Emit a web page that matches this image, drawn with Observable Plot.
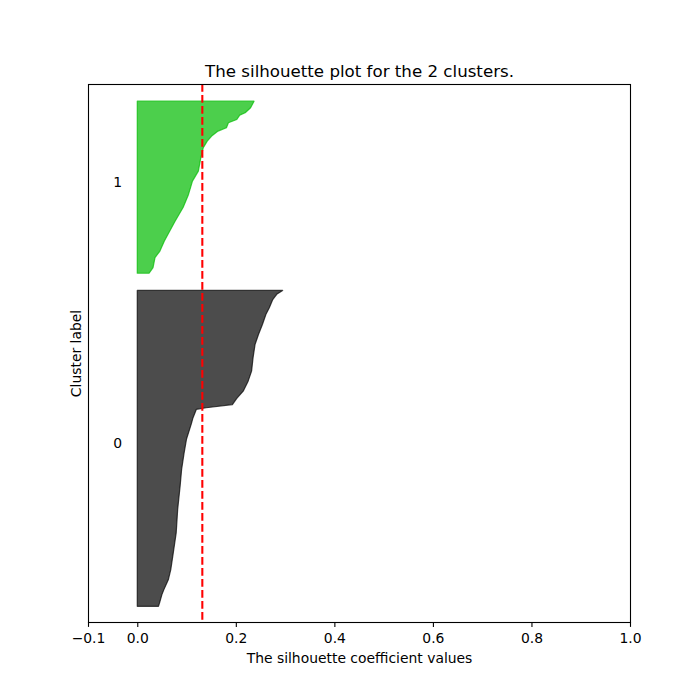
<!DOCTYPE html>
<html>
<head>
<meta charset="utf-8">
<script src="https://cdn.jsdelivr.net/npm/d3@7"></script>
<script src="https://cdn.jsdelivr.net/npm/@observablehq/plot@0.6"></script>
<style>
  html, body { margin: 0; padding: 0; background: #fff; }
  #chart { width: 700px; height: 700px; }
</style>
</head>
<body>
<div id="chart"></div>
<script>
// ---- data ----
const clusterIds = [0, 1];
const clusterSizes = [203, 111];
const clusterColors = ["rgb(0,0,0)", "rgb(0,187,0)"];

// sorted silhouette profile: sample rank within cluster -> silhouette value
const cluster0Rank  = [0, 2, 7.5, 10.7, 17, 23.5, 34, 47, 62, 77, 87.5, 98, 107, 117, 120.5, 126, 127, 129, 133, 137.6, 144, 150.4, 159, 167.4, 173.8, 180.2, 186.6, 191, 196.2, 199.5, 202];
const cluster0Value = [0.043, 0.045, 0.050, 0.054, 0.063, 0.068, 0.073, 0.079, 0.082, 0.087, 0.090, 0.095, 0.100, 0.110, 0.113, 0.120, 0.140, 0.193, 0.202, 0.215, 0.225, 0.232, 0.235, 0.239, 0.246, 0.254, 0.261, 0.268, 0.275, 0.283, 0.295];

const cluster1Rank  = [0, 3.6, 10, 14.2, 20.6, 27, 33.4, 42, 50.4, 58.9, 65.3, 73.9, 80.3, 84.5, 87.7, 90.9, 93, 96.2, 98.3, 101.1, 102.6, 105.8, 110];
const cluster1Value = [0.024, 0.032, 0.036, 0.046, 0.055, 0.066, 0.077, 0.093, 0.104, 0.112, 0.124, 0.129, 0.134, 0.142, 0.151, 0.164, 0.181, 0.185, 0.202, 0.208, 0.219, 0.230, 0.237];

const avgSilhouette = 0.131;
const xTicks = [-0.1, 0, 0.2, 0.4, 0.6, 0.8, 1.0];
const titleText = "The silhouette plot for the 2 clusters.";
const xLabelText = "The silhouette coefficient values";
const yLabelText = "Cluster label";

// ---- layout like the matplotlib silhouette example ----
const gap = 10;
const yLower = [];
let acc = gap;
for (const s of clusterSizes) { yLower.push(acc); acc += s + gap; }
const yMax = clusterSizes.reduce((a, b) => a + b, 0) + (clusterIds.length + 1) * gap;

const ranks = [cluster0Rank, cluster1Rank];
const values = [cluster0Value, cluster1Value];
const rows = [];
clusterIds.forEach((c, k) => {
  ranks[k].forEach((r, i) => rows.push({cluster: c, y: yLower[k] + r, value: values[k][i]}));
});
const labels = clusterIds.map((c, k) => ({cluster: c, y: yLower[k] + 0.5 * clusterSizes[k]}));

const font = "DejaVu Sans, sans-serif";
const fmt = d => d.toFixed(1).replace("-", "\u2212");

const chart = Plot.plot({
  width: 700,
  height: 700,
  marginLeft: 88,
  marginRight: 70,
  marginTop: 84,
  marginBottom: 78,
  style: {fontFamily: font, fontSize: "13.9px", color: "black", background: "white"},
  x: {domain: [-0.1, 1.0]},
  y: {domain: [0, yMax]},
  marks: [
    ...clusterIds.map(c => Plot.areaX(rows.filter(d => d.cluster === c), {
      y: "y", x1: 0, x2: "value",
      fill: clusterColors[c], fillOpacity: 0.7,
      stroke: clusterColors[c], strokeOpacity: 0.7, strokeWidth: 1.2
    })),
    Plot.text(labels, {x: -0.05, y: "y", text: d => String(d.cluster), textAnchor: "start", lineAnchor: "bottom", fontSize: 13.9, fill: "black"}),
    Plot.ruleX([avgSilhouette], {stroke: "red", strokeWidth: 2.08, strokeDasharray: "7.7,3.3"}),
    Plot.frame({stroke: "black", strokeWidth: 1.1}),
    Plot.axisX({ticks: xTicks, tickFormat: fmt, tickSize: 4.9, tickPadding: 5.5, fontSize: 13.9, label: null, stroke: "black", strokeWidth: 1.1, fill: "black"}),
    Plot.axisY({ticks: [], label: null}),
    Plot.text([xLabelText], {frameAnchor: "bottom", text: d => d, lineAnchor: "bottom", dy: 40, fontSize: 13.9, fill: "black"}),
    Plot.text([yLabelText], {frameAnchor: "left", text: d => d, rotate: -90, textAnchor: "middle", lineAnchor: "bottom", dx: -7.5, fontSize: 13.9, fill: "black"}),
    Plot.text([titleText], {frameAnchor: "top", text: d => d, lineAnchor: "bottom", dy: -8, fontSize: 16.67, fill: "black"})
  ]
});
document.getElementById("chart").appendChild(chart);
</script>
</body>
</html>
